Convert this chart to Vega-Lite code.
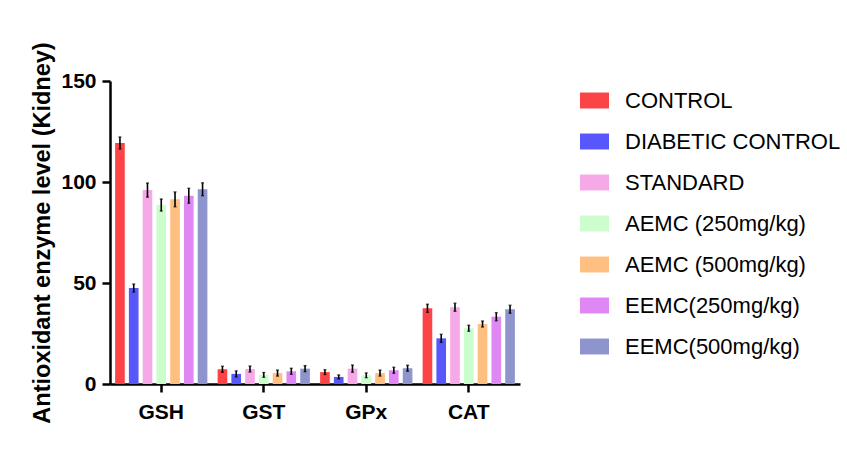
{
  "$schema": "https://vega.github.io/schema/vega-lite/v6.json",
  "width": 410,
  "height": 303,
  "autosize": "none",
  "padding": {"left": 110, "top": 81, "right": 327, "bottom": 67},
  "background": "white",
  "data": {
    "values": [
      {"enzyme": "GSH", "group": "CONTROL", "value": 119.3, "lo": 116.3, "hi": 122.3},
      {"enzyme": "GSH", "group": "DIABETIC CONTROL", "value": 47.5, "lo": 45.5, "hi": 49.5},
      {"enzyme": "GSH", "group": "STANDARD", "value": 96, "lo": 92.5, "hi": 99.5},
      {"enzyme": "GSH", "group": "AEMC (250mg/kg)", "value": 88.6, "lo": 85.6, "hi": 91.6},
      {"enzyme": "GSH", "group": "AEMC (500mg/kg)", "value": 91.4, "lo": 87.7, "hi": 95.1},
      {"enzyme": "GSH", "group": "EEMC(250mg/kg)", "value": 93.2, "lo": 89.5, "hi": 96.9},
      {"enzyme": "GSH", "group": "EEMC(500mg/kg)", "value": 96.4, "lo": 93.2, "hi": 99.6},
      {"enzyme": "GST", "group": "CONTROL", "value": 7.3, "lo": 5.8, "hi": 8.8},
      {"enzyme": "GST", "group": "DIABETIC CONTROL", "value": 5, "lo": 3.5, "hi": 6.5},
      {"enzyme": "GST", "group": "STANDARD", "value": 7.4, "lo": 5.9, "hi": 8.9},
      {"enzyme": "GST", "group": "AEMC (250mg/kg)", "value": 4.5, "lo": 3.3, "hi": 5.7},
      {"enzyme": "GST", "group": "AEMC (500mg/kg)", "value": 5.4, "lo": 3.9, "hi": 6.9},
      {"enzyme": "GST", "group": "EEMC(250mg/kg)", "value": 6.3, "lo": 4.8, "hi": 7.8},
      {"enzyme": "GST", "group": "EEMC(500mg/kg)", "value": 7.6, "lo": 6.1, "hi": 9.1},
      {"enzyme": "GPx", "group": "CONTROL", "value": 5.9, "lo": 4.7, "hi": 7.1},
      {"enzyme": "GPx", "group": "DIABETIC CONTROL", "value": 3.5, "lo": 2.5, "hi": 4.5},
      {"enzyme": "GPx", "group": "STANDARD", "value": 7.6, "lo": 5.8, "hi": 9.4},
      {"enzyme": "GPx", "group": "AEMC (250mg/kg)", "value": 4.3, "lo": 3.1, "hi": 5.5},
      {"enzyme": "GPx", "group": "AEMC (500mg/kg)", "value": 5.4, "lo": 3.9, "hi": 6.9},
      {"enzyme": "GPx", "group": "EEMC(250mg/kg)", "value": 6.8, "lo": 5.3, "hi": 8.3},
      {"enzyme": "GPx", "group": "EEMC(500mg/kg)", "value": 7.8, "lo": 6.3, "hi": 9.3},
      {"enzyme": "CAT", "group": "CONTROL", "value": 37.5, "lo": 35.5, "hi": 39.5},
      {"enzyme": "CAT", "group": "DIABETIC CONTROL", "value": 22.6, "lo": 20.6, "hi": 24.6},
      {"enzyme": "CAT", "group": "STANDARD", "value": 38, "lo": 36, "hi": 40},
      {"enzyme": "CAT", "group": "AEMC (250mg/kg)", "value": 27.6, "lo": 26.1, "hi": 29.1},
      {"enzyme": "CAT", "group": "AEMC (500mg/kg)", "value": 29.7, "lo": 28.2, "hi": 31.2},
      {"enzyme": "CAT", "group": "EEMC(250mg/kg)", "value": 33.3, "lo": 31.3, "hi": 35.3},
      {"enzyme": "CAT", "group": "EEMC(500mg/kg)", "value": 37, "lo": 35, "hi": 39}
    ]
  },
  "encoding": {
    "x": {
      "field": "enzyme", "type": "nominal",
      "sort": ["GSH", "GST", "GPx", "CAT"],
      "scale": {"paddingInner": 0.1, "paddingOuter": 0.05},
      "axis": {
        "title": null, "labelAngle": 0,
        "labelFont": "Liberation Sans", "labelFontSize": 21, "labelFontWeight": "bold",
        "labelColor": "black", "labelPadding": 9,
        "tickSize": 8, "tickWidth": 2.5, "tickColor": "black",
        "domainWidth": 2.5, "domainColor": "black"
      }
    },
    "xOffset": {
      "field": "group", "type": "nominal",
      "sort": ["CONTROL", "DIABETIC CONTROL", "STANDARD", "AEMC (250mg/kg)", "AEMC (500mg/kg)", "EEMC(250mg/kg)", "EEMC(500mg/kg)"],
      "scale": {"paddingInner": 0.3, "paddingOuter": 0}
    }
  },
  "layer": [
    {
      "mark": {"type": "bar"},
      "encoding": {
        "y": {
          "field": "value", "type": "quantitative",
          "scale": {"domain": [0, 150], "nice": false},
          "axis": {
            "values": [0, 50, 100, 150],
            "title": "Antioxidant enzyme level (Kidney)",
            "titleFont": "Liberation Sans", "titleFontSize": 23.5, "titleFontWeight": "bold",
            "titleColor": "black", "titlePadding": 6,
            "labelFont": "Liberation Sans", "labelFontSize": 21, "labelFontWeight": "bold",
            "labelColor": "black", "labelPadding": 6,
            "grid": false,
            "tickSize": 8, "tickWidth": 2.5, "tickColor": "black",
            "domainWidth": 2.5, "domainColor": "black"
          }
        },
        "color": {
          "field": "group", "type": "nominal",
          "sort": ["CONTROL", "DIABETIC CONTROL", "STANDARD", "AEMC (250mg/kg)", "AEMC (500mg/kg)", "EEMC(250mg/kg)", "EEMC(500mg/kg)"],
          "scale": {
            "domain": ["CONTROL", "DIABETIC CONTROL", "STANDARD", "AEMC (250mg/kg)", "AEMC (500mg/kg)", "EEMC(250mg/kg)", "EEMC(500mg/kg)"],
            "range": ["#fc4346", "#5757fb", "#f5a9e6", "#ccfdcc", "#febf80", "#df87f3", "#8d95cc"]
          },
          "legend": {
            "title": null,
            "orient": "none", "legendX": 470, "legendY": 5,
            "padding": 0,
            "symbolType": "M-1,-0.55H1V0.55H-1Z",
            "symbolSize": 841, "symbolStrokeWidth": 0, "symbolOpacity": 1,
            "labelFont": "Liberation Sans", "labelFontSize": 22, "labelColor": "black",
            "labelOffset": 16, "rowPadding": 15, "labelLimit": 400
          }
        }
      }
    },
    {
      "mark": {"type": "rule", "color": "black", "strokeWidth": 1.6},
      "encoding": {
        "y": {"field": "lo", "type": "quantitative"},
        "y2": {"field": "hi"}
      }
    },
    {
      "mark": {"type": "tick", "color": "black", "thickness": 1.3, "size": 3},
      "encoding": {"y": {"field": "lo", "type": "quantitative"}}
    },
    {
      "mark": {"type": "tick", "color": "black", "thickness": 1.3, "size": 3},
      "encoding": {"y": {"field": "hi", "type": "quantitative"}}
    }
  ],
  "config": {"view": {"stroke": null}}
}
